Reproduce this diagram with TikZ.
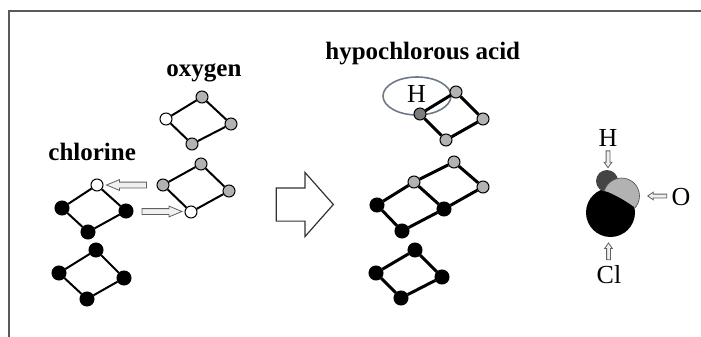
\documentclass[tikz,border=0pt]{standalone}
\usepackage{fontspec}
\setmainfont{Liberation Serif}
\usetikzlibrary{shapes.arrows, calc}
\definecolor{ogray}{HTML}{B2B2B2}
\definecolor{hgray}{HTML}{7C7C7C}
\definecolor{hdark}{HTML}{444444}
\definecolor{ringblue}{HTML}{6E7888}
\definecolor{framegray}{HTML}{5A5A5A}

\tikzset{
  atom/.style={circle, draw=black, line width=0.5pt, inner sep=0pt, minimum size=6pt},
  clatom/.style={atom, fill=black, minimum size=7pt},
  oatom/.style={atom, fill=ogray},
  freeatom/.style={atom, fill=white},
  hatom/.style={atom, fill=hgray},
  bond/.style={line width=1pt},
  hbond/.style={line width=1.5pt},
  title/.style={font=\fontsize{12.5}{14}\selectfont\bfseries, inner sep=0pt},
  sym/.style={font=\fontsize{13}{15}\selectfont, inner sep=0pt},
  hollow/.style={single arrow, draw=gray!75!black, fill=gray!12, line width=0.4pt,
    minimum width=0pt},
}

\begin{document}
\begin{tikzpicture}[x=0.5pt, y=-0.5pt]
    \useasboundingbox (0,0) rectangle (701,337);
    \draw[framegray, line width=1pt] (8.5,337) -- (8.5,10.5) -- (701,10.5);

    \node[title, anchor=base west] (oxlabel) at (166,76) {oxygen};
    \node[title, anchor=base west] (cllabel) at (48,160) {chlorine};
    \node[title, anchor=base west] (hocllabel) at (325,59) {hypochlorous acid};

    % oxygen
    \node[oatom] (o1t) at (202,97) {};
    \node[oatom] (o1r) at (231,124) {};
    \node[oatom] (o1b) at (192,144) {};
    \node[freeatom] (o1l) at (166,119) {};
    \draw[bond] (o1t) -- (o1r) -- (o1b) -- (o1l) -- (o1t);

    \node[oatom] (o2t) at (201,164) {};
    \node[oatom] (o2r) at (229,191) {};
    \node[freeatom] (o2b) at (191,212) {};
    \node[oatom] (o2l) at (163,185) {};
    \draw[bond] (o2t) -- (o2r) -- (o2b) -- (o2l) -- (o2t);

    % chlorine
    \node[freeatom] (c1t) at (97,185) {};
    \node[clatom] (c1r) at (126,211) {};
    \node[clatom] (c1b) at (88,232) {};
    \node[clatom] (c1l) at (62,208) {};
    \draw[bond] (c1t) -- (c1r) -- (c1b) -- (c1l) -- (c1t);

    \node[clatom] (c2t) at (96,250) {};
    \node[clatom] (c2r) at (124,278) {};
    \node[clatom] (c2b) at (87,299) {};
    \node[clatom] (c2l) at (59,273) {};
    \draw[bond] (c2t) -- (c2r) -- (c2b) -- (c2l) -- (c2t);

    \node[hollow, rotate=180, minimum height=20pt, inner ysep=1.25pt,
      single arrow head extend=1.25pt, single arrow tip angle=45]
      (swapa) at ($(o2l)!0.5!(c1t)$) {};
    \node[hollow, minimum height=20pt, inner ysep=1.25pt,
      single arrow head extend=1.25pt, single arrow tip angle=45]
      (swapb) at ($(c1r)!0.5!(o2b)$) {};

    \node[hollow, draw=black!80, fill=white, line width=0.6pt, minimum height=28.5pt,
      inner ysep=8pt, single arrow head extend=7.75pt, single arrow tip angle=97]
      (react) at (297.5,204.5) {};

    % hypochlorous acid
    \draw[ringblue, line width=0.8pt] (417,96) ellipse [x radius=17pt, y radius=9.5pt];
    \node[sym] (hlabel) at (416.5,93.5) {H};
    \node[hatom] (hh) at (420,114) {};
    \node[oatom] (ha) at (456,92) {};
    \node[oatom] (hb) at (483,119) {};
    \node[oatom] (hc) at (446,140) {};
    \draw[hbond] (hh) -- (ha) -- (hb) -- (hc) -- (hh);

    \node[oatom] (d1) at (454,162) {};
    \node[oatom] (d2) at (414,182) {};
    \node[oatom] (d3) at (483,187) {};
    \node[clatom] (d4) at (377,205) {};
    \node[clatom] (d5) at (444,209) {};
    \node[clatom] (d6) at (402,231) {};
    \draw[hbond] (d1) -- (d3) -- (d5) -- (d2) -- (d1);
    \draw[hbond] (d2) -- (d4) -- (d6) -- (d5);

    \node[clatom] (e1) at (415,250) {};
    \node[clatom] (e2) at (442,277) {};
    \node[clatom] (e3) at (401,298) {};
    \node[clatom] (e4) at (376,273) {};
    \draw[hbond] (e1) -- (e2) -- (e3) -- (e4) -- (e1);

    % space-filling model
    \fill[black] (610.5,212.5) circle [radius=12.25pt];
    \fill[hdark] (607,181) circle [radius=5.5pt];
    \begin{scope}
      \clip (580,160) -- (580,187) -- (600,189) .. controls (612,193) and (626,200) .. (642,213)
        -- (660,213) -- (660,160) -- cycle;
      \draw[black!70, line width=0.3pt, fill=ogray] (621.5,196) circle [radius=9pt];
    \end{scope}
    \coordinate (mtop) at (608,169);
    \coordinate (mright) at (646,195);
    \coordinate (mbottom) at (608,240);

    \node[sym] (hsym) at (608,138) {H};
    \node[sym] (osym) at (681,197) {O};
    \node[sym] (clsym) at (609,275) {Cl};
    \node[hollow, rotate=-90, minimum height=7.5pt, inner ysep=0.75pt,
      single arrow head extend=1pt, single arrow tip angle=70]
      (harr) at ($(hsym.south)!0.5!(mtop)$) {};
    \node[hollow, rotate=180, minimum height=9.5pt, inner ysep=0.75pt,
      single arrow head extend=1pt, single arrow tip angle=70]
      (oarr) at ($(osym.west)!0.5!(mright)$) {};
    \node[hollow, rotate=90, minimum height=6pt, inner ysep=0.75pt,
      single arrow head extend=1pt, single arrow tip angle=70]
      (clarr) at ($(clsym.north)!0.5!(mbottom)$) {};
\end{tikzpicture}
\end{document}
